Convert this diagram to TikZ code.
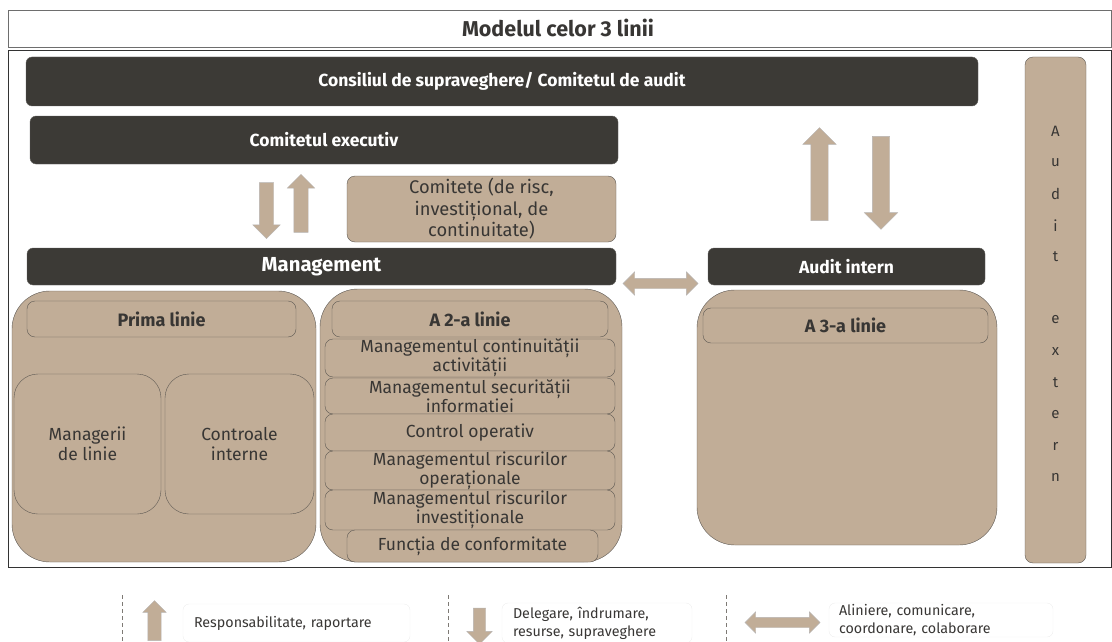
\documentclass[tikz,border=0pt]{standalone}
\usepackage{fontspec}
\setmainfont{Fira Sans}
\usetikzlibrary{shapes.arrows}
\definecolor{cdark}{HTML}{3C3A36}
\definecolor{ctan}{HTML}{C1AD97}
\definecolor{cedge}{HTML}{5E5953}
\definecolor{ctext}{HTML}{383634}
\definecolor{cframe}{HTML}{6E6E6E}

\begin{document}
\begin{tikzpicture}[x=1pt, y=-1pt,
  bar/.style={fill=cdark, draw=cdark!80, rounded corners=6pt, text=white, inner sep=0pt,
    font=\fontsize{17.5}{20}\selectfont\bfseries},
  tanbox/.style={fill=ctan, draw=cedge, rounded corners=8pt, text=ctext, inner sep=0pt,
    align=center},
  group/.style={fill=ctan, draw=cedge, rounded corners=38pt, inner sep=0pt},
  header/.style={tanbox, font=\fontsize{18}{20}\selectfont\bfseries},
  item/.style={tanbox, minimum width=290, font=\fontsize{17.5}{19}\selectfont},
  blockarrow/.style={single arrow, fill=ctan, draw=cedge!45, inner sep=0pt,
    single arrow head extend=#1},
  bothways/.style={double arrow, fill=ctan, draw=cedge!45, inner sep=0pt,
    double arrow head extend=#1},
  legbox/.style={draw=black!7, rounded corners=6pt, inner sep=0pt, text=ctext,
    align=left, font=\fontsize{14.3}{18}\selectfont}
]
  \useasboundingbox (0,0) rectangle (1112,642);

  % Title
  \draw[cframe, semithick] (8,10) rectangle (1111,47);
  \node[text=ctext, font=\fontsize{21.5}{24}\selectfont\bfseries] (title) at (558,28) {Modelul celor 3 linii};
  \draw[black!80] (8,50) rectangle (1111,567);

  % Board and executive
  \node[bar, minimum width=952, minimum height=49] (board) at (502,81.5) {Consiliul de supraveghere/ Comitetul de audit};
  \node[bar, minimum width=588, minimum height=48] (exec) at (324,140) {Comitetul executiv};
  \node[tanbox, minimum width=269, minimum height=66, font=\fontsize{18.3}{21.5}\selectfont] (comm) at (481.5,209) {Comitete (de risc,\\investițional, de\\continuitate)};
  \node[bar, minimum width=589, minimum height=37, font=\fontsize{20.3}{22}\selectfont\bfseries] (mgmt) at (321.5,266.5) {Management};
  \node[bar, minimum width=277, minimum height=37] (ia) at (846.5,266.5) {Audit intern};

  % Audit extern
  \node[tanbox, minimum width=61, minimum height=506] (ext) at (1055.5,310) {};
  \foreach \l/\k in {A/0,u/1,d/2,i/3,t/4,e/6,x/7,t/8,e/9,r/10,n/11}{
    \node[text=ctext, font=\fontsize{15}{16}\selectfont] (ext\k) at (1055.5,131+31.5*\k) {\l};
  }

  % First line
  \node[group, minimum width=304, minimum height=271] (first) at (164,426.5) {};
  \node[header, minimum width=269, minimum height=36] (firsthead) at (161.5,319) {Prima linie};
  \node[tanbox, rounded corners=24pt, minimum width=147, minimum height=140, font=\fontsize{17.5}{20}\selectfont] (linemgr) at (87.5,444) {Managerii\\de linie};
  \node[tanbox, rounded corners=24pt, minimum width=149, minimum height=140, font=\fontsize{17.5}{20}\selectfont] (intctrl) at (239.5,444) {Controale\\interne};

  % Second line
  \node[group, minimum width=302, minimum height=273] (second) at (471,425.5) {};
  \node[header, minimum width=276, minimum height=36] (secondhead) at (470,319) {A 2-a linie};
  \node[item, minimum height=38] (bcm) at (470,358) {Managementul continuității\\activității};
  \node[item, minimum height=36] (ism) at (470,396) {Managementul securității\\informatiei};
  \node[item, minimum height=37] (opctrl) at (470,432.5) {Control operativ};
  \node[item, minimum height=39] (oprisk) at (470,470.5) {Managementul riscurilor\\operaționale};
  \node[item, minimum height=40] (invrisk) at (470,510) {Managementul riscurilor\\investiționale};
  \node[item, minimum width=251, minimum height=32] (compl) at (472.5,546) {Funcția de conformitate};

  % Third line
  \node[group, minimum width=300, minimum height=255] (third) at (847,417.5) {};
  \node[header, minimum width=285, minimum height=35] (thirdhead) at (845.5,325.5) {A 3-a linie};

  % Block arrows
  \node[blockarrow=6.5, rotate=-90, minimum height=56, inner ysep=7] (delegL) at (266.5,207) {};
  \node[blockarrow=6.5, rotate=90, minimum height=58, inner ysep=7] (reportL) at (301,207) {};
  \node[blockarrow=8, rotate=90, minimum height=93, inner ysep=8.5] (reportR) at (819.5,178.5) {};
  \node[blockarrow=8, rotate=-90, minimum height=93, inner ysep=8.5] (delegR) at (881,178.5) {};
  \node[bothways=6.5, minimum height=75, inner ysep=5] (align) at (660.5,283.5) {};

  % Legend
  \foreach \x in {122,448,726}{
    \draw[cedge!80, dash pattern=on 4pt off 3pt] (\x,595) -- (\x,642);
  }
  \node[blockarrow=5, rotate=90, minimum height=40, inner ysep=6.5] (legup) at (154.5,624) {};
  \node[legbox, minimum width=227, minimum height=38, text width=205] (legupt) at (296.5,623) {Responsabilitate, raportare};
  \node[blockarrow=6.5, rotate=-90, minimum height=36, inner ysep=6] (legdown) at (479.5,623) {};
  \node[legbox, minimum width=190, minimum height=40, text width=168] (legdownt) at (597,623) {Delegare, îndrumare,\\resurse, supraveghere};
  \node[bothways=5.5, minimum height=75, inner ysep=5] (legboth) at (782.5,622.5) {};
  \node[legbox, minimum width=224, minimum height=34, text width=204] (legbotht) at (941,620) {Aliniere, comunicare,\\coordonare, colaborare};
\end{tikzpicture}
\end{document}
